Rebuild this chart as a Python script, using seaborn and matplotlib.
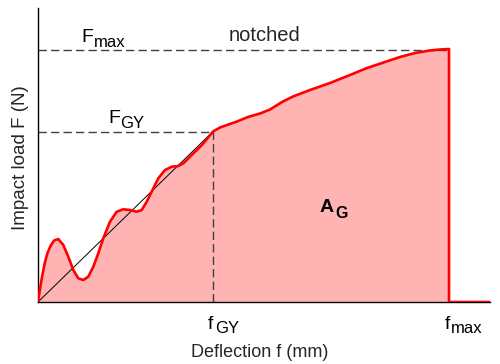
import matplotlib
matplotlib.use("Agg")
import matplotlib.pyplot as plt
import seaborn as sns
import pandas as pd

sns.set_style("white")
plt.rcParams['font.family'] = ['Liberation Sans', 'DejaVu Sans']

# Data (arbitrary units)
deflection = [0, 2, 4, 7, 9.5, 12.5, 16, 20.3, 25.3, 30.3, 35.3, 40.3, 45.3, 50.3, 55.3, 60.3,
              65.3, 72, 78.7, 85.3, 92, 98.7, 103.7, 108.7, 113.7, 120.3, 127, 133.7,
              140.3, 145.3, 152, 157, 163, 169, 175, 182, 189, 199, 210, 222, 232, 244,
              255, 272, 292, 312, 329, 347, 362, 377, 392, 402, 411, 411, 452]
load = [0, 13, 25, 40, 49, 56, 61.5, 63, 57, 45.3, 32, 23.7, 22, 25.3, 35.3, 48.7,
        63.7, 80.3, 90.3, 92.7, 92, 90.3, 92, 100.3, 110.3, 123.7, 132, 135.3,
        136, 138.7, 145.3, 150.3, 156, 163, 170.5, 174.5, 177, 180.5, 185, 188.5, 192.5, 200,
        205.5, 212, 219, 227, 234, 240, 245, 249, 251.5, 252.5, 253, 0, 0]
f_gy, F_gy = 175, 170.5
f_max, F_max = 411, 252

df = pd.DataFrame({"deflection": deflection, "load": load})

fig = plt.figure(figsize=(5, 3.64), dpi=100)
ax = fig.add_axes([0.076, 0.1703, 0.904, 0.8077])

n_fill = len(deflection) - 1
ax.fill_between(deflection[:n_fill], load[:n_fill], 0, color='#FFB3B3', lw=0, zorder=1)

sns.lineplot(data=df, x="deflection", y="load", sort=False, estimator=None,
             color='#FF0000', lw=1.9, ax=ax, zorder=4)

# linear reference line
ax.plot([0, f_gy], [0, F_gy], color='black', lw=0.7, zorder=3)

# dashed guide lines
dcol = '#404040'
ax.plot([0, f_max], [F_max, F_max], color=dcol, lw=1, dashes=(6, 3), zorder=2)
ax.plot([0, f_gy], [F_gy, F_gy], color=dcol, lw=1, dashes=(6, 3), zorder=2)
ax.plot([f_gy, f_gy], [0, F_gy], color=dcol, lw=1, dashes=(6, 3), zorder=5)

ax.set_xlim(0, 452)
ax.set_ylim(0, 294)
ax.set_xticks([])
ax.set_yticks([])
for s in ['top', 'right']:
    ax.spines[s].set_visible(False)
for s in ['left', 'bottom']:
    ax.spines[s].set_color('black')
    ax.spines[s].set_linewidth(1)
ax.set_xlabel("")
ax.set_ylabel("")

kw = dict(ha='left', va='baseline', clip_on=False, color='black')
# F_max
ax.text(43, 260, 'F', fontsize=14, **kw)
ax.text(55.5, 255, 'max', fontsize=12, **kw)
# F_GY
ax.text(70, 179, 'F', fontsize=14, **kw)
ax.text(82.5, 174, 'GY', fontsize=12, **kw)
# A_G
ax.text(282, 90, 'A', fontsize=14, fontweight='bold', **kw)
ax.text(297.5, 84, 'G', fontsize=11.5, fontweight='bold', **kw)
# f_GY
ax.text(169.5, -27, 'f', fontsize=14, **kw)
ax.text(177, -31, 'GY', fontsize=12, **kw)
# f_max
ax.text(406.5, -27, 'f', fontsize=14, **kw)
ax.text(413, -31, 'max', fontsize=12, **kw)

ax.text(227, 261, 'notched', fontsize=14.5, ha='center', va='baseline')
ax.text(221.5, -55, 'Deflection f (mm)', fontsize=13, ha='center', va='baseline',
        clip_on=False)
ax.text(-17, 144.5, 'Impact load F (N)', fontsize=13.5, ha='center', va='center',
        rotation=90, clip_on=False)

fig.savefig("out.png", dpi=100)
